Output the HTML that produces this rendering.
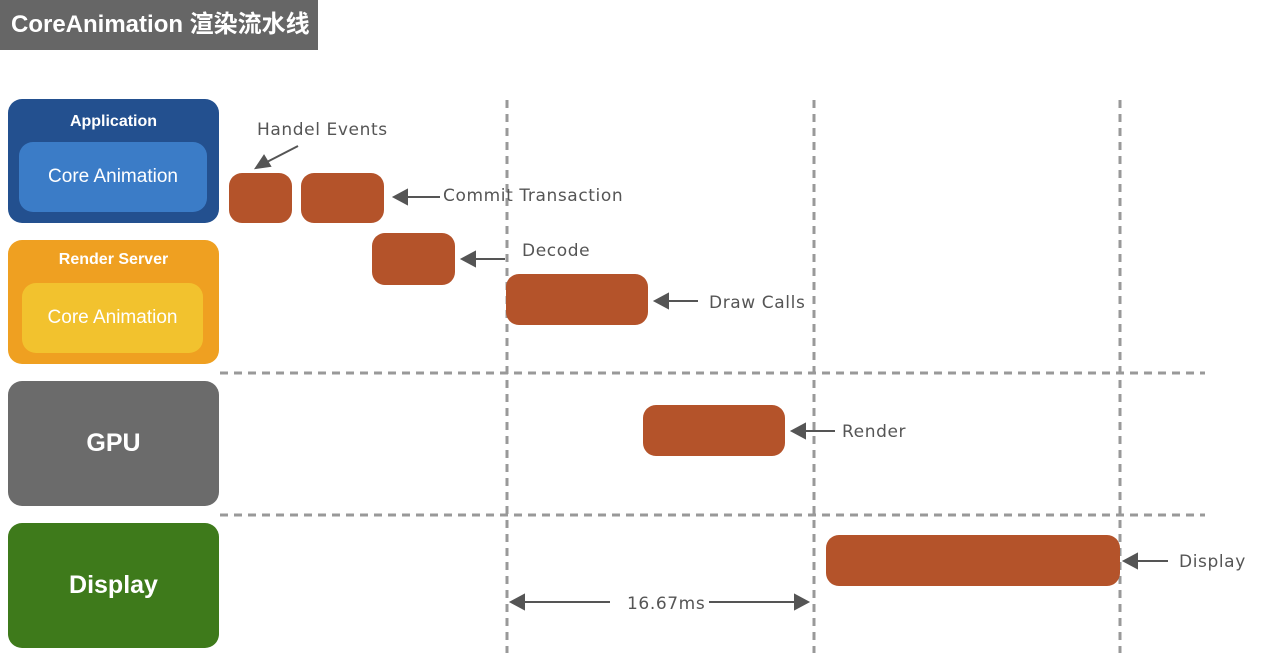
<!DOCTYPE html>
<html><head><style>
body{margin:0;width:1278px;height:653px;background:#fff;position:relative;overflow:hidden;font-family:"Liberation Sans","Noto Sans CJK SC",sans-serif}
.a{position:absolute}
.box{position:absolute;border-radius:14px;color:#fff;font-weight:bold;text-align:center}
.inner{position:absolute;border-radius:14px;color:#fff;font-size:19px;display:flex;align-items:center;justify-content:center}
.o{position:absolute;background:#b4532a;border-radius:13px}
.l{position:absolute;font-family:"DejaVu Sans","Liberation Sans",sans-serif;font-size:17px;color:#555;letter-spacing:0.6px;white-space:nowrap}
</style></head><body>
<div class="a" style="left:0;top:0;width:318px;height:50px;background:#666;color:#fff;font-weight:bold;font-size:24px;line-height:50px;padding-left:11px;box-sizing:border-box;white-space:nowrap">CoreAnimation 渲染流水线</div>

<div class="box" style="left:8px;top:99px;width:211px;height:124px;background:#23508f"><div style="margin-top:14px;font-size:16px">Application</div></div>
<div class="inner" style="left:19px;top:142px;width:188px;height:70px;background:#3b7cc7">Core Animation</div>

<div class="box" style="left:8px;top:240px;width:211px;height:124px;background:#efa021"><div style="margin-top:11px;font-size:16px">Render Server</div></div>
<div class="inner" style="left:22px;top:283px;width:181px;height:70px;background:#f2c22e">Core Animation</div>

<div class="box" style="left:8px;top:381px;width:211px;height:125px;background:#6b6b6b;font-size:25px;line-height:125px">GPU</div>
<div class="box" style="left:8px;top:523px;width:211px;height:125px;background:#3e7a1b;font-size:25px;line-height:125px">Display</div>

<svg class="a" style="left:0;top:0" width="1278" height="653">
<g stroke="#999" stroke-width="3" stroke-dasharray="8,6" fill="none">
<line x1="507" y1="100" x2="507" y2="653"/>
<line x1="814" y1="100" x2="814" y2="653"/>
<line x1="1120" y1="100" x2="1120" y2="653"/>
<line x1="220" y1="373" x2="1205" y2="373"/>
<line x1="220" y1="515" x2="1205" y2="515"/>
</g>
<g stroke="#555" stroke-width="2" fill="#555">
<line x1="298" y1="146" x2="265" y2="163"/><polygon points="256,168 264,156 270,166"/>
<line x1="440" y1="197" x2="405" y2="197"/><polygon points="394,197 407,190 407,204"/>
<line x1="505" y1="259" x2="473" y2="259"/><polygon points="462,259 475,252 475,266"/>
<line x1="698" y1="301" x2="666" y2="301"/><polygon points="655,301 668,294 668,308"/>
<line x1="835" y1="431" x2="803" y2="431"/><polygon points="792,431 805,424 805,438"/>
<line x1="1168" y1="561" x2="1135" y2="561"/><polygon points="1124,561 1137,554 1137,568"/>
<line x1="610" y1="602" x2="522" y2="602"/><polygon points="511,602 524,595 524,609"/>
<line x1="709" y1="602" x2="797" y2="602"/><polygon points="808,602 795,595 795,609"/>
</g>
</svg>

<div class="o" style="left:229px;top:173px;width:63px;height:50px"></div>
<div class="o" style="left:301px;top:173px;width:83px;height:50px"></div>
<div class="o" style="left:372px;top:233px;width:83px;height:52px"></div>
<div class="o" style="left:506px;top:274px;width:142px;height:51px"></div>
<div class="o" style="left:643px;top:405px;width:142px;height:51px"></div>
<div class="o" style="left:826px;top:535px;width:294px;height:51px"></div>

<div class="l" style="left:257px;top:120px">Handel Events</div>
<div class="l" style="left:443px;top:186px">Commit Transaction</div>
<div class="l" style="left:522px;top:241px">Decode</div>
<div class="l" style="left:709px;top:293px">Draw Calls</div>
<div class="l" style="left:842px;top:422px">Render</div>
<div class="l" style="left:1179px;top:552px">Display</div>
<div class="l" style="left:627px;top:594px">16.67ms</div>
</body></html>
